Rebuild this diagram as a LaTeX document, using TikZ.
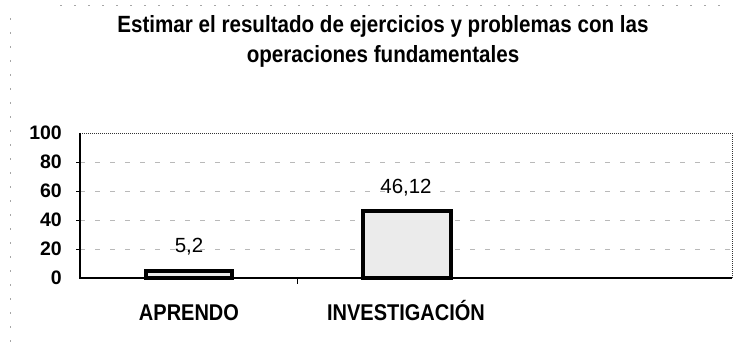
\documentclass[tikz,border=0pt]{standalone}
\usepackage{fontspec}
\setmainfont{Liberation Sans}
\newcommand{\tallbox}[1]{\scalebox{1}[1.14]{#1}}
\begin{document}
\begin{tikzpicture}[x=1pt,y=-1pt,
  ttl/.style={font=\fontsize{20.6}{24}\bfseries\selectfont, inner sep=0pt, anchor=base},
  ylab/.style={font=\fontsize{19.5}{22}\bfseries\selectfont, anchor=east, inner sep=0pt},
  catlab/.style={font=\fontsize{20}{24}\bfseries\selectfont, inner sep=0pt, anchor=base},
  vallab/.style={font=\fontsize{20.5}{24}\selectfont, inner sep=0pt},
  grid/.style={gray!55, line width=0.6pt, dash pattern=on 5pt off 10pt},
  frame/.style={black!80, line width=1pt, densely dotted},
  axis/.style={black, line width=2pt},
  bar/.style={draw=black, line width=3.4pt, fill=gray!16},
  scan/.style={gray!70, line width=0.6pt, dash pattern=on 2pt off 12pt}]
\useasboundingbox (0,0) rectangle (742,345);
% faint outer frame (scanned)
\coordinate (fa) at (10,18);
\coordinate (fb) at (10,345);
\coordinate (fc) at (60,5);
\coordinate (fd) at (720,5);
\draw[scan] (fa) -- (fb);
\draw[scan] (fc) -- (fd);
% plot area corners
\coordinate (o) at (80,278);
\coordinate (tl) at (80,133);
\coordinate (tr) at (732,133);
\coordinate (br) at (732,278);
% gridlines
\foreach \v/\y in {20/249,40/220,60/191,80/162}{
  \coordinate (gl\v) at (80,\y);
  \coordinate (gr\v) at (732,\y);
  \draw[grid] (gl\v) -- (gr\v);
  \coordinate (tk\v) at (76,\y);
  \draw[black, line width=0.8pt] (tk\v) -- (gl\v);
}
\draw[frame] (tl) -- (tr) -- (br);
% bars
\draw[bar] (146,278) rectangle (232,271);
\draw[bar] (363,278) rectangle (451,211);
% axes
\draw[axis] (tl) -- (o) -- (br);
\coordinate (ct1) at (297,278);
\coordinate (ct2) at (297,284);
\draw[black, line width=0.8pt] (ct1) -- (ct2);
% y labels
\node[ylab] (y100) at (62,133) {100};
\node[ylab] (y80) at (62,162) {80};
\node[ylab] (y60) at (62,191) {60};
\node[ylab] (y40) at (62,220) {40};
\node[ylab] (y20) at (62,249) {20};
\node[ylab] (y0) at (62,278) {0};
% value labels
\node[vallab] (v1) at (189,247) {5,2};
\node[vallab] (v2) at (406,188) {46,12};
% category labels
\node[catlab] (c1) at (189,320) {\tallbox{APRENDO}};
\node[catlab] (c2) at (406,320) {\tallbox{INVESTIGACIÓN}};
% title
\node[ttl] (t1) at (383,33) {\tallbox{Estimar el resultado de ejercicios y problemas con las}};
\node[ttl] (t2) at (383,63) {\tallbox{operaciones fundamentales}};
\end{tikzpicture}
\end{document}
